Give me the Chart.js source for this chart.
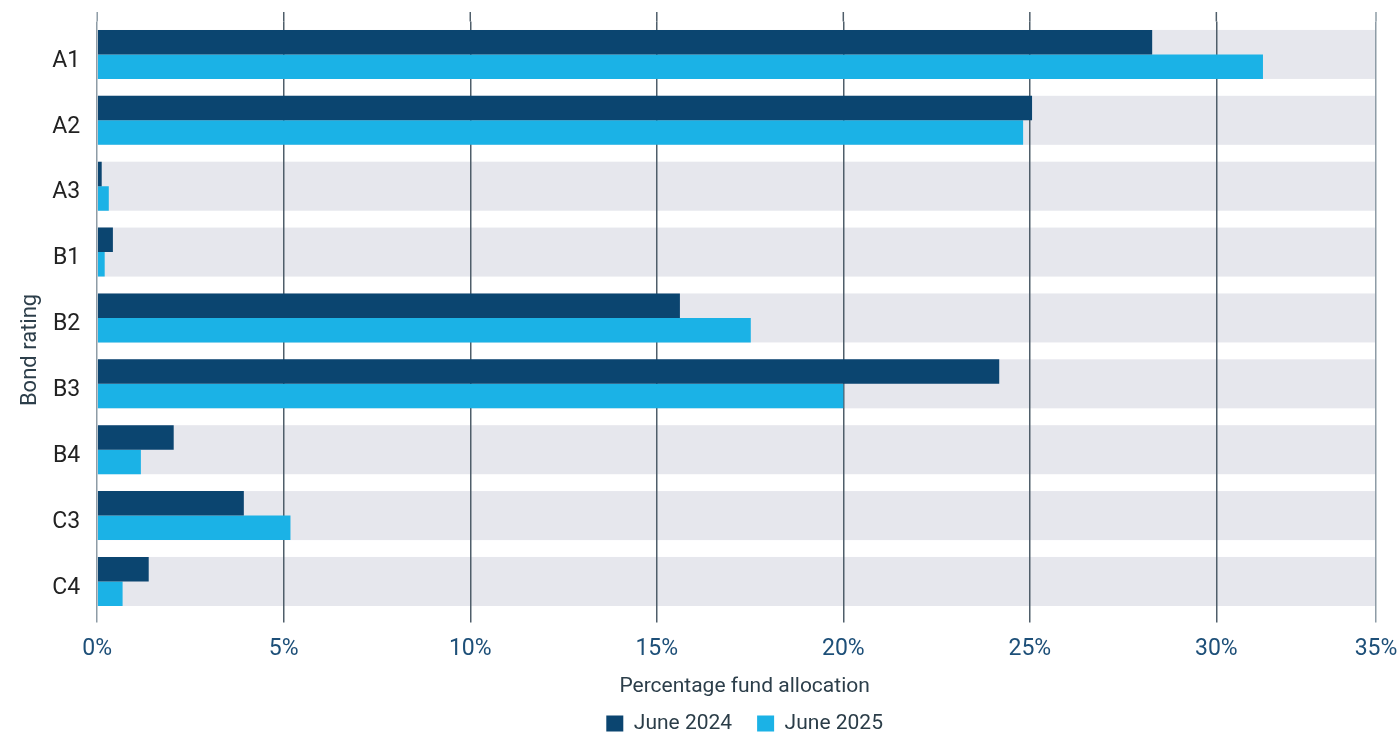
<!DOCTYPE html>
<html>
<head>
<meta charset="utf-8">
<script src="https://cdn.jsdelivr.net/npm/chart.js@4.4.1/dist/chart.umd.min.js"></script>
<style>
  html, body { margin: 0; padding: 0; background: #ffffff; }
  #wrap { width: 1399px; height: 734px; position: relative; }
</style>
</head>
<body>
<div id="wrap"><canvas id="chart"></canvas></div>
<script>
// Bond rating categories and fund allocation (%) per reporting date
const categories = ['A1', 'A2', 'A3', 'B1', 'B2', 'B3', 'B4', 'C3', 'C4'];
const june2024 = [28.28, 25.06, 0.12, 0.42, 15.62, 24.18, 2.05, 3.93, 1.38];
const june2025 = [31.25, 24.82, 0.31, 0.20, 17.52, 20.00, 1.17, 5.18, 0.68];

// x axis: right edge of the plot and the tick positions / labels
const axisMax = 34.28;
const tickValues = [0, 5, 10, 15, 20, 25, 30, axisMax];
const tickLabels = ['0%', '5%', '10%', '15%', '20%', '25%', '30%', '35%'];

const yAxisTitle = 'Bond rating';
const xAxisTitle = 'Percentage fund allocation';

const BAND_FRACTION = 0.744;
const FOOTER_SHIFT = 8;   // x-title and legend sit slightly right of the plot centre
const FONT = 'Roboto, "Noto Sans", sans-serif';

Chart.defaults.font.family = FONT;

// Grey row bands behind each category, the short grid stubs above the plot,
// and the vertical y-axis title (sits a little below the plot's middle)
const rowBands = {
  id: 'rowBands',
  afterLayout(chart) {
    [chart.legend, chart.titleBlock].forEach(box => {
      if (box) { box.left += FOOTER_SHIFT; box.right += FOOTER_SHIFT; }
    });
  },
  beforeDraw(chart) {
    const { ctx, chartArea, scales } = chart;
    const x = scales.x, y = scales.y;
    const step = y.getPixelForValue(1) - y.getPixelForValue(0);
    const h = step * BAND_FRACTION;
    ctx.save();
    ctx.fillStyle = '#e6e7ed';
    categories.forEach((c, i) => {
      const cy = y.getPixelForValue(i);
      ctx.fillRect(x.left, cy - h / 2, x.right - x.left, h);
    });
    ctx.lineWidth = 1.5;
    x.ticks.forEach((t, i) => {
      const px = x.getPixelForValue(t.value);
      ctx.strokeStyle = (i === 0 || i === x.ticks.length - 1) ? '#8e9ca6' : '#4f5e6a';
      ctx.beginPath();
      ctx.moveTo(px, chartArea.top - 9.5);
      ctx.lineTo(px, chartArea.top);
      ctx.stroke();
    });
    ctx.restore();
  },
  afterDraw(chart) {
    const { ctx, chartArea } = chart;
    ctx.save();
    ctx.translate(30, (chartArea.top + chartArea.bottom) / 2 + 32);
    ctx.rotate(-Math.PI / 2);
    ctx.font = '22px ' + FONT;
    ctx.fillStyle = '#2c3e4a';
    ctx.textAlign = 'center';
    ctx.textBaseline = 'middle';
    ctx.fillText(yAxisTitle, 0, 0);
    ctx.restore();
  }
};

// keep the plot edges fixed rather than letting edge labels push them inward
function noEdgePadding(scale) {
  scale.paddingLeft = 0;
  scale.paddingRight = 0;
  scale.paddingTop = 0;
  scale.paddingBottom = 0;
}

new Chart(document.getElementById('chart'), {
  type: 'bar',
  data: {
    labels: categories,
    datasets: [
      { label: 'June 2024', data: june2024, backgroundColor: '#0b4570', borderWidth: 0 },
      { label: 'June 2025', data: june2025, backgroundColor: '#1bb2e6', borderWidth: 0 }
    ]
  },
  options: {
    indexAxis: 'y',
    responsive: true,
    maintainAspectRatio: false,
    animation: false,
    layout: { padding: { top: 21.5, right: 23, left: 35.3, bottom: -10 } },
    datasets: { bar: { categoryPercentage: BAND_FRACTION, barPercentage: 1.0 } },
    scales: {
      x: {
        type: 'linear',
        min: 0,
        max: axisMax,
        afterBuildTicks(scale) {
          scale.ticks = tickValues.map(v => ({ value: v }));
        },
        afterFit: noEdgePadding,
        ticks: {
          autoSkip: false,
          maxRotation: 0,
          padding: 13,
          color: '#1d4f78',
          font: { size: 23 },
          callback(value, index) { return tickLabels[index]; }
        },
        grid: {
          drawTicks: true,
          tickLength: 8,
          lineWidth: 1.5,
          color(ctx) {
            const n = tickValues.length - 1;
            return (ctx.index === 0 || ctx.index === n) ? '#8e9ca6' : '#4f5e6a';
          }
        },
        border: { display: false }
      },
      y: {
        afterFit: noEdgePadding,
        grid: { display: false, drawTicks: false },
        border: { display: false },
        ticks: { color: '#222222', font: { size: 23 }, padding: 17, labelOffset: 6.5 }
      }
    },
    plugins: {
      title: {
        display: true,
        text: xAxisTitle,
        position: 'bottom',
        fullSize: false,
        weight: 500,
        color: '#2c3e4a',
        font: { size: 21, weight: 'normal', lineHeight: 1 },
        padding: { top: 0, bottom: -9 }
      },
      legend: {
        position: 'bottom',
        fullSize: false,
        labels: {
          boxWidth: 17,
          boxHeight: 16,
          padding: 25,
          color: '#2b3d48',
          font: { size: 21 }
        }
      },
      tooltip: { enabled: false }
    }
  },
  plugins: [rowBands]
});
</script>
</body>
</html>
